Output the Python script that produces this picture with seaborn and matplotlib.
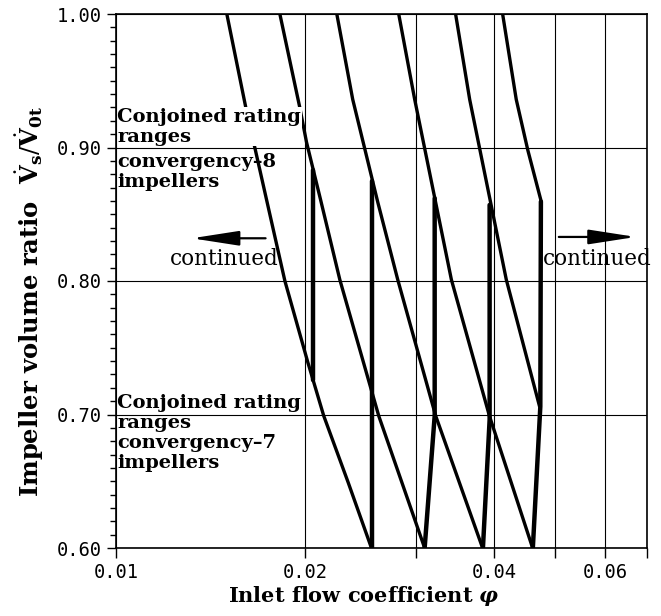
import numpy as np
import pandas as pd
import matplotlib
matplotlib.use("Agg")
import matplotlib.pyplot as plt
import seaborn as sns
from matplotlib.ticker import (FixedLocator, FixedFormatter, MultipleLocator,
                               NullLocator, FormatStrFormatter)

# ---- impeller characteristics: inlet flow coefficient vs. volume ratio ----
curve_a_phi = [0.01501, 0.01609, 0.01736, 0.01857, 0.02020, 0.02141, 0.02342, 0.02550]
curve_a_ratio = [1.000, 0.930, 0.861, 0.800, 0.739, 0.699, 0.649, 0.600]

curve_b_phi = [0.01823, 0.01961, 0.02010, 0.02116, 0.02271, 0.02619, 0.03099]
curve_b_ratio = [1.000, 0.930, 0.904, 0.861, 0.801, 0.699, 0.600]

curve_c_phi = [0.02246, 0.02381, 0.02610, 0.02808, 0.03227, 0.03832]
curve_c_ratio = [1.000, 0.936, 0.859, 0.801, 0.699, 0.600]

curve_d_phi = [0.02818, 0.02988, 0.03418, 0.03929, 0.04603]
curve_d_ratio = [1.000, 0.936, 0.801, 0.699, 0.600]

curve_e_phi = [0.03471, 0.03655, 0.04180, 0.04722]
curve_e_ratio = [1.000, 0.936, 0.801, 0.706]

curve_f_phi = [0.04124, 0.04335, 0.04523, 0.04751]
curve_f_ratio = [1.000, 0.936, 0.898, 0.8595]

# ---- switch-over lines between neighbouring impellers ----
switch_1_phi = [0.02057, 0.02057]
switch_1_ratio = [0.726, 0.883]
switch_2_phi = [0.02559, 0.02559]
switch_2_ratio = [0.600, 0.875]
switch_3_phi = [0.03099, 0.03215, 0.03215]
switch_3_ratio = [0.600, 0.699, 0.862]
switch_4_phi = [0.03837, 0.03932, 0.03932]
switch_4_ratio = [0.600, 0.696, 0.857]
switch_5_phi = [0.04607, 0.04735, 0.04745]
switch_5_ratio = [0.600, 0.706, 0.8595]

x_ticks = [0.01, 0.02, 0.03, 0.04, 0.05, 0.06, 0.07]
x_tick_labels = ["0.01", "0.02", "", "0.04", "", "0.06", ""]
y_ticks = [0.60, 0.70, 0.80, 0.90, 1.00]


def long_form(groups):
    frames = []
    for name, (phi, ratio) in groups.items():
        frames.append(pd.DataFrame({"phi": phi, "ratio": ratio, "line": name,
                                    "order": range(len(phi))}))
    return pd.concat(frames, ignore_index=True)


curves = long_form({
    "A": (curve_a_phi, curve_a_ratio), "B": (curve_b_phi, curve_b_ratio),
    "C": (curve_c_phi, curve_c_ratio), "D": (curve_d_phi, curve_d_ratio),
    "E": (curve_e_phi, curve_e_ratio), "F": (curve_f_phi, curve_f_ratio),
})
switches = long_form({
    "S1": (switch_1_phi, switch_1_ratio), "S2": (switch_2_phi, switch_2_ratio),
    "S3": (switch_3_phi, switch_3_ratio), "S4": (switch_4_phi, switch_4_ratio),
    "S5": (switch_5_phi, switch_5_ratio),
})

sns.set_theme(style="white")
plt.rcParams["mathtext.fontset"] = "dejavuserif"
plt.rcParams["font.family"] = ["DejaVu Serif"]

fig = plt.figure(figsize=(6.61, 6.16), dpi=100)
ax = fig.add_axes([116 / 661, 1 - 548 / 616, (647 - 116) / 661, (548 - 14) / 616])
ax.set_xscale("log")

sns.lineplot(data=curves, x="phi", y="ratio", units="line", estimator=None,
             sort=False, color="black", linewidth=2.4, legend=False, ax=ax,
             solid_capstyle="round", solid_joinstyle="round", zorder=2)
sns.lineplot(data=switches, x="phi", y="ratio", units="line", estimator=None,
             sort=False, color="black", linewidth=3.2, legend=False, ax=ax,
             solid_joinstyle="miter", zorder=2)

ax.set_xlim(0.01, 0.07)
ax.set_ylim(0.60, 1.00)

ax.xaxis.set_major_locator(FixedLocator(x_ticks))
ax.xaxis.set_major_formatter(FixedFormatter(x_tick_labels))
ax.xaxis.set_minor_locator(NullLocator())
ax.yaxis.set_major_locator(FixedLocator(y_ticks))
ax.yaxis.set_major_formatter(FormatStrFormatter("%.2f"))
ax.yaxis.set_minor_locator(MultipleLocator(0.01))

ax.set_axisbelow(False)
ax.grid(True, which="major", color="black", linewidth=0.8)
for s in ax.spines.values():
    s.set_color("black")
    s.set_linewidth(1.2)

ax.tick_params(axis="x", which="major", direction="out", length=7, width=1,
               color="black", pad=4, bottom=True)
ax.tick_params(axis="y", which="major", direction="out", length=6.5, width=1,
               color="black", pad=4, left=True)
ax.tick_params(axis="y", which="minor", direction="out", length=4.5, width=1,
               color="black", left=True)
for lab in ax.get_xticklabels() + ax.get_yticklabels():
    lab.set_fontfamily("DejaVu Sans Mono")
    lab.set_fontsize(13.5)
    lab.set_color("black")

ax.set_xlabel(r"Inlet flow coefficient $\mathbfit{\varphi}$", fontsize=15,
              fontweight="bold", color="black", va="center")
ax.xaxis.set_label_coords((364 - 116) / 531, -(596 - 548) / 534)
ax.set_ylabel(r"Impeller volume ratio  $\dot{\mathbf{V}}_\mathbf{s}/\dot{\mathbf{V}}_\mathbf{0t}$",
              fontsize=17.5, fontweight="bold", color="black", va="center")
ax.yaxis.set_label_coords(-(116 - 30) / 531, 1 - (301 - 14) / 534)

# rating-range annotations
bold = dict(fontsize=14, fontweight="bold", color="black", linespacing=1.12,
            transform=ax.transAxes, ha="left", va="top", zorder=2.2)
ax.text(0.002, 1 - (108 - 14) / 534, "Conjoined rating\nranges",
        bbox=dict(facecolor="white", edgecolor="none", pad=0.5), **bold)
ax.text(0.002, 1 - (153 - 14) / 534, "convergency\u20138\nimpellers", **bold)
ax.text(0.002, 1 - (394 - 14) / 534, "Conjoined rating\nranges",
        bbox=dict(facecolor="white", edgecolor="none", pad=0.5), **bold)
ax.text(0.002, 1 - (434 - 14) / 534, "convergency\u20137\nimpellers", **bold)

arrow = dict(arrowstyle="-|>,head_length=2.9,head_width=0.45", color="black",
             lw=1.6, mutation_scale=10, shrinkA=0, shrinkB=0)
ax.annotate("", xy=(0.01320, 0.832), xytext=(0.01730, 0.832), arrowprops=arrow)
ax.annotate("", xy=(0.06720, 0.833), xytext=(0.05067, 0.833), arrowprops=arrow)
ax.text(0.01485, 0.8166, "continued", fontsize=15.5, ha="center", va="center",
        color="black")
ax.text(0.05838, 0.8166, "continued", fontsize=15.5, ha="center", va="center",
        color="black")

fig.savefig("out.png", dpi=100, facecolor="white")
